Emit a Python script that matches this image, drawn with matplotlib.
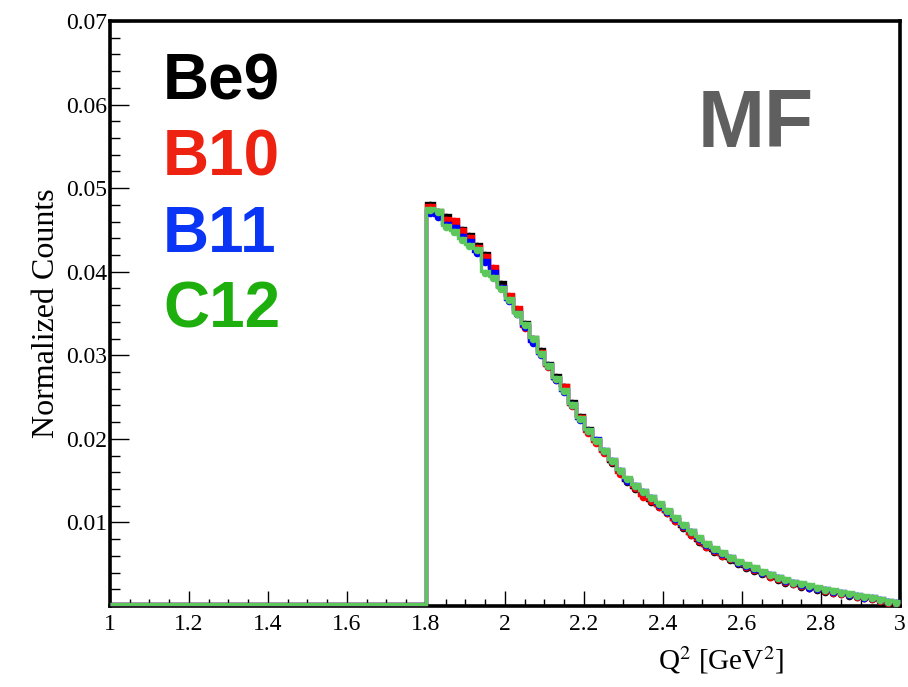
"""Q^2 distributions (MF) for Be9, B10, B11, C12, ROOT-style histogram."""
import numpy as np
import matplotlib

matplotlib.use("Agg")
import matplotlib.pyplot as plt
from matplotlib.ticker import MultipleLocator, FixedLocator
from matplotlib.transforms import offset_copy

plt.rcParams["font.family"] = "Liberation Serif"
plt.rcParams["mathtext.fontset"] = "stix"

# binning: 100 bins from 1 to 3 GeV^2, empty below 1.8
Q2_MIN, Q2_MAX, N_BINS = 1.0, 3.0, 100
EMPTY_BINS = 40

NAMES = ["Be9", "B10", "B11", "C12"]
LINE_COLORS = ["black", "#ff0000", "#0000ff", "#5cc85c"]
TEXT_COLORS = ["black", "#ee2211", "#0a35f5", "#1eae0e"]

X_TICKS = [1.0, 1.2, 1.4, 1.6, 1.8, 2.0, 2.2, 2.4, 2.6, 2.8, 3.0]
X_LABELS = ["1", "1.2", "1.4", "1.6", "1.8", "2", "2.2", "2.4", "2.6", "2.8", "3"]
Y_TICKS = [0.01, 0.02, 0.03, 0.04, 0.05, 0.06, 0.07]
Y_LABELS = ["0.01", "0.02", "0.03", "0.04", "0.05", "0.06", "0.07"]

be9 = [0.0480, 0.0472, 0.0466, 0.0459, 0.0450, 0.0443, 0.0431, 0.0420, 0.0403, 0.0385,
       0.0370, 0.0353, 0.0338, 0.0320, 0.0305, 0.0288, 0.0274, 0.0262, 0.0243, 0.0226,
       0.0211, 0.0198, 0.0184, 0.0171, 0.0160, 0.0148, 0.0140, 0.0133, 0.0125, 0.0118,
       0.0111, 0.0102, 0.0093, 0.0085, 0.0077, 0.0071, 0.0065, 0.0060, 0.0055, 0.0050,
       0.0046, 0.0042, 0.0038, 0.0035, 0.0031, 0.0028, 0.0026, 0.0023, 0.0021, 0.0019,
       0.0017, 0.0016, 0.0014, 0.0012, 0.0011, 0.0009, 0.0008, 0.0006, 0.0004, 0.0002]
b10 = [0.0477, 0.0470, 0.0462, 0.0461, 0.0449, 0.0440, 0.0428, 0.0418, 0.0405, 0.0381,
       0.0371, 0.0355, 0.0333, 0.0316, 0.0303, 0.0286, 0.0270, 0.0262, 0.0239, 0.0225,
       0.0207, 0.0195, 0.0183, 0.0172, 0.0158, 0.0149, 0.0141, 0.0131, 0.0126, 0.0119,
       0.0111, 0.0102, 0.0094, 0.0085, 0.0078, 0.0071, 0.0066, 0.0060, 0.0056, 0.0051,
       0.0047, 0.0043, 0.0039, 0.0035, 0.0032, 0.0029, 0.0026, 0.0024, 0.0021, 0.0020,
       0.0018, 0.0016, 0.0014, 0.0013, 0.0011, 0.0010, 0.0008, 0.0006, 0.0004, 0.0002]
b11 = [0.0470, 0.0465, 0.0456, 0.0452, 0.0441, 0.0435, 0.0423, 0.0412, 0.0398, 0.0380,
       0.0365, 0.0349, 0.0334, 0.0315, 0.0300, 0.0287, 0.0271, 0.0256, 0.0240, 0.0223,
       0.0209, 0.0199, 0.0186, 0.0174, 0.0162, 0.0150, 0.0143, 0.0136, 0.0129, 0.0121,
       0.0113, 0.0104, 0.0096, 0.0088, 0.0080, 0.0073, 0.0067, 0.0062, 0.0057, 0.0052,
       0.0048, 0.0044, 0.0040, 0.0037, 0.0033, 0.0030, 0.0027, 0.0025, 0.0022, 0.0020,
       0.0019, 0.0017, 0.0015, 0.0013, 0.0012, 0.0010, 0.0009, 0.0007, 0.0005, 0.0003]
c12 = [0.0474, 0.0471, 0.0453, 0.0448, 0.0438, 0.0431, 0.0426, 0.0398, 0.0393, 0.0379,
       0.0366, 0.0350, 0.0336, 0.0319, 0.0301, 0.0287, 0.0272, 0.0257, 0.0241, 0.0224,
       0.0210, 0.0198, 0.0186, 0.0174, 0.0162, 0.0152, 0.0144, 0.0136, 0.0129, 0.0122,
       0.0114, 0.0105, 0.0097, 0.0089, 0.0081, 0.0074, 0.0068, 0.0063, 0.0058, 0.0053,
       0.0049, 0.0045, 0.0041, 0.0037, 0.0034, 0.0031, 0.0028, 0.0026, 0.0024, 0.0021,
       0.0019, 0.0018, 0.0016, 0.0014, 0.0012, 0.0011, 0.0009, 0.0007, 0.0005, 0.0003]
SERIES = [be9, b10, b11, c12]

fig = plt.figure(figsize=(9.08, 6.87), dpi=100)
ax = fig.add_axes([0.1211, 0.1179, 0.8701, 0.8515])

edges = np.linspace(Q2_MIN, Q2_MAX, N_BINS + 1)
centers = 0.5 * (edges[:-1] + edges[1:])
# lift the histogram lines 2 px so the empty bins sit just above the frame, as in ROOT
lifted = offset_copy(ax.transData, fig=fig, y=2, units="dots")
for vals, c in zip(SERIES, LINE_COLORS):
    full = np.concatenate([np.zeros(EMPTY_BINS), vals])
    ax.stairs(full, edges, color=c, lw=2.4, baseline=None, zorder=3,
              clip_on=False, transform=lifted)
    ax.plot(centers[EMPTY_BINS:], vals, "o", color=c, ms=5.5, mew=0, zorder=3)

ax.set_xlim(Q2_MIN, Q2_MAX)
ax.set_ylim(0, 0.07)

ax.xaxis.set_major_locator(FixedLocator(X_TICKS))
ax.xaxis.set_minor_locator(MultipleLocator(0.05))
ax.yaxis.set_major_locator(FixedLocator(Y_TICKS))
ax.yaxis.set_minor_locator(MultipleLocator(0.002))
ax.set_xticklabels(X_LABELS)
ax.set_yticklabels(Y_LABELS)
ax.tick_params(axis="x", which="major", direction="in", length=11, width=1, labelsize=17, pad=6)
ax.tick_params(axis="x", which="minor", direction="in", length=5, width=1)
ax.tick_params(axis="y", which="major", direction="in", length=14, width=1, labelsize=17, pad=2)
ax.tick_params(axis="y", which="minor", direction="in", length=7, width=1)
for s in ax.spines.values():
    s.set_linewidth(2.6)

ax.set_ylabel("Normalized Counts", fontsize=23, labelpad=4)
fig.text(721 / 908, 1 - 660 / 687, "Q$^2$ [GeV$^2$]", fontsize=21, ha="center", va="center")

# target labels
for i, (name, c) in enumerate(zip(NAMES, TEXT_COLORS)):
    fig.text(163 / 908, 1 - (100 + 76 * i) / 687, name, color=c, fontsize=46,
             fontweight="bold", family="Liberation Sans", ha="left", va="baseline")
fig.text(698 / 908, 1 - 147 / 687, "MF", color="#5f5f5f", fontsize=58,
         fontweight="bold", family="Liberation Sans", ha="left", va="baseline")

fig.savefig("out.png", dpi=100, facecolor="white")
